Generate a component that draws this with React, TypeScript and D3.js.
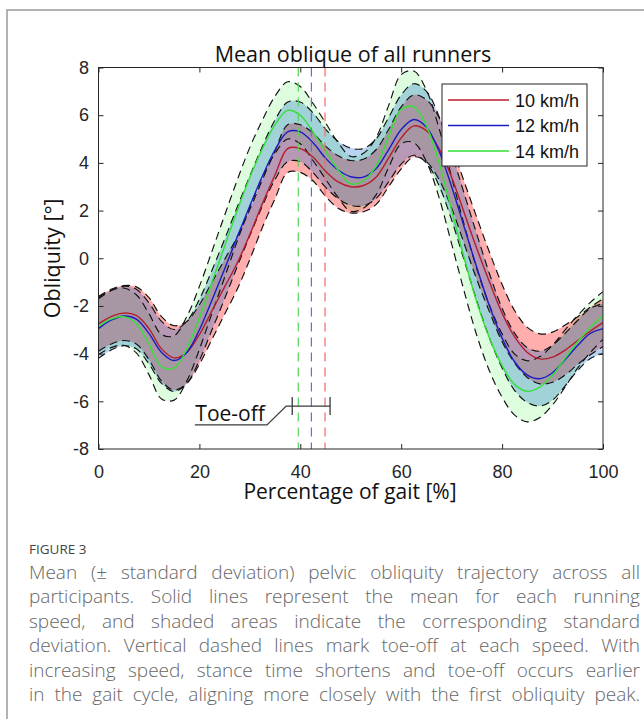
import React, { useEffect, useRef } from 'react';
import * as d3 from 'd3';

// gait cycle samples (%)
const gaitPct = [
  0, 2.5, 5, 7.5, 10, 12.5, 15, 17.5, 20, 22.5, 25, 27.5, 30, 32.5, 35, 37.5, 40, 42.5, 45, 47.5,
  50, 52.5, 55, 57.5, 60, 62.5, 65, 67.5, 70, 72.5, 75, 77.5, 80, 82.5, 85, 87.5, 90, 92.5, 95, 97.5, 100,
];

// mean obliquity (deg) per speed
const mean10 = [
  -2.75, -2.45, -2.3, -2.4, -2.95, -3.8, -4.18, -3.95, -3.2, -2.2, -1.2, -0.2, 1.0, 2.3, 3.5, 4.6, 4.6, 4.25, 3.65, 3.2,
  3.0, 3.05, 3.4, 4.2, 5.05, 5.55, 5.35, 4.6, 3.4, 1.9, 0.4, -1.0, -2.3, -3.3, -3.95, -4.22, -4.15, -3.85, -3.45, -3.05, -2.7,
];
const mean12 = [
  -2.95, -2.6, -2.42, -2.55, -3.15, -3.95, -4.29, -3.95, -3.0, -1.75, -0.45, 0.9, 2.2, 3.45, 4.55, 5.3, 5.3, 4.85, 4.2, 3.7,
  3.42, 3.4, 3.75, 4.55, 5.4, 5.82, 5.5, 4.5, 3.0, 1.3, -0.4, -2.0, -3.35, -4.35, -4.9, -5.05, -4.8, -4.25, -3.65, -3.15, -2.95,
];
const mean14 = [
  -2.85, -2.55, -2.45, -2.75, -3.6, -4.55, -4.6, -3.8, -2.5, -1.0, 0.5, 2.0, 3.4, 4.6, 5.6, 6.2, 6.0, 5.3, 4.5, 3.7,
  3.12, 3.25, 3.85, 5.1, 6.25, 6.35, 5.55, 4.0, 2.0, 0.0, -1.85, -3.35, -4.5, -5.3, -5.58, -5.4, -4.9, -4.2, -3.5, -2.9, -2.4,
];

// standard deviation (deg) per speed
const sd10 = [
  1.15, 1.15, 1.15, 1.2, 1.3, 1.35, 1.35, 1.3, 1.25, 1.2, 1.15, 1.1, 1.05, 1.0, 1.0, 1.0, 1.0, 1.0, 1.05, 1.1,
  1.1, 1.1, 1.15, 1.2, 1.3, 1.3, 1.3, 1.3, 1.3, 1.3, 1.3, 1.25, 1.2, 1.1, 1.05, 1.05, 1.05, 1.05, 1.0, 1.0, 1.0,
];
const sd12 = [
  1.25, 1.25, 1.25, 1.25, 1.28, 1.3, 1.3, 1.3, 1.28, 1.25, 1.25, 1.25, 1.25, 1.25, 1.25, 1.25, 1.25, 1.25, 1.22, 1.2,
  1.2, 1.2, 1.25, 1.35, 1.45, 1.5, 1.5, 1.45, 1.4, 1.4, 1.4, 1.35, 1.25, 1.2, 1.15, 1.15, 1.15, 1.1, 1.05, 1.05, 1.05,
];
const sd14 = [
  1.2, 1.2, 1.2, 1.22, 1.28, 1.35, 1.35, 1.35, 1.32, 1.3, 1.3, 1.28, 1.25, 1.2, 1.2, 1.2, 1.2, 1.2, 1.18, 1.15,
  1.15, 1.15, 1.2, 1.3, 1.45, 1.5, 1.5, 1.45, 1.4, 1.4, 1.4, 1.38, 1.33, 1.28, 1.28, 1.28, 1.25, 1.2, 1.1, 1.05, 1.0,
];

const speedLabels = ['10 km/h', '12 km/h', '14 km/h'];
const toeOffPct = [44.9, 42.2, 39.6];
const toeOffRange = [38.4, 45.9];
const toeOffBarY = -6.2;
// leader from the bar to the label, in data units
const leaderPts: [number, number][] = [[37.2, -6.2], [33.4, -6.99], [19.1, -6.99]];

const xTicks = [0, 20, 40, 60, 80, 100];
const yTicks = [-8, -6, -4, -2, 0, 2, 4, 6, 8];

const captionLines = [
  'Mean (± standard deviation) pelvic obliquity trajectory across all',
  'participants. Solid lines represent the mean for each running',
  'speed, and shaded areas indicate the corresponding standard',
  'deviation. Vertical dashed lines mark toe-off at each speed. With',
  'increasing speed, stance time shortens and toe-off occurs earlier',
  'in the gait cycle, aligning more closely with the first obliquity peak.',
];

const App = () => {
  const svgRef = useRef<SVGSVGElement>(null);

  useEffect(() => {
    document.body.style.margin = '0';
    document.body.style.overflow = 'hidden';
    const svg = d3.select(svgRef.current);
    svg.selectAll('*').remove();

    const left = 98.5, right = 603, top = 67.5, bottom = 449;
    const x = d3.scaleLinear().domain([0, 100]).range([left, right]);
    const y = d3.scaleLinear().domain([-8, 8]).range([bottom, top]);

    const humanist = '"Open Sans", sans-serif';
    const arial = '"Liberation Sans", Arial, sans-serif';

    // outer figure frame
    svg.append('path')
      .attr('d', 'M7,719 V10 H644')
      .attr('fill', 'none')
      .attr('stroke', '#9a9a9a')
      .attr('stroke-width', 1.5);

    svg.append('clipPath').attr('id', 'plotclip')
      .append('rect')
      .attr('x', left).attr('y', top)
      .attr('width', right - left).attr('height', bottom - top);

    const series = [
      { mean: mean10, sd: sd10, line: '#b81c2c', fill: '#ff0000', op: 0.32 },
      { mean: mean12, sd: sd12, line: '#1c1cc4', fill: '#0064c8', op: 0.28 },
      { mean: mean14, sd: sd14, line: '#34e034', fill: '#00e600', op: 0.13 },
    ];

    const plotG = svg.append('g').attr('clip-path', 'url(#plotclip)');

    const area = d3.area<number>()
      .x((_, i) => x(gaitPct[i]))
      .curve(d3.curveCatmullRom);

    // bands: green first, then red, then blue
    [2, 0, 1].forEach(k => {
      const s = series[k];
      plotG.append('path')
        .attr('d', area
          .y0((_, i) => y(s.mean[i] - s.sd[i]))
          .y1((_, i) => y(s.mean[i] + s.sd[i]))(gaitPct))
        .attr('fill', s.fill)
        .attr('fill-opacity', s.op);
    });

    const line = d3.line<number>()
      .x((_, i) => x(gaitPct[i]))
      .curve(d3.curveCatmullRom);

    // dashed SD outlines
    series.forEach(s => {
      [1, -1].forEach(sign => {
        plotG.append('path')
          .attr('d', line.y((_, i) => y(s.mean[i] + sign * s.sd[i]))(gaitPct))
          .attr('fill', 'none')
          .attr('stroke', '#111')
          .attr('stroke-width', 1.15)
          .attr('stroke-dasharray', '8,5');
      });
    });

    // mean lines
    series.forEach(s => {
      plotG.append('path')
        .attr('d', line.y((_, i) => y(s.mean[i]))(gaitPct))
        .attr('fill', 'none')
        .attr('stroke', s.line)
        .attr('stroke-width', 1.4);
    });

    // toe-off markers
    const toeColors = ['#f06a6a', '#6a6ae6', '#55d455'];
    toeOffPct.forEach((t, k) => {
      plotG.append('line')
        .attr('x1', x(t)).attr('x2', x(t))
        .attr('y1', top).attr('y2', bottom)
        .attr('stroke', toeColors[k])
        .attr('stroke-width', 1.2)
        .attr('stroke-dasharray', '9,6');
    });

    // toe-off range bar + leader
    const barG = svg.append('g').attr('stroke', '#3a3a3a').attr('stroke-width', 1.3).attr('fill', 'none');
    barG.append('line')
      .attr('x1', x(toeOffRange[0])).attr('x2', x(toeOffRange[1]))
      .attr('y1', y(toeOffBarY)).attr('y2', y(toeOffBarY));
    toeOffRange.forEach(v => {
      barG.append('line')
        .attr('x1', x(v)).attr('x2', x(v))
        .attr('y1', y(toeOffBarY) - 9).attr('y2', y(toeOffBarY) + 9);
    });
    barG.append('path')
      .attr('d', d3.line()(
        [[x(toeOffRange[0]), y(toeOffBarY)], ...leaderPts.map(p => [x(p[0]), y(p[1])] as [number, number])]
      ));
    svg.append('text')
      .attr('x', x(leaderPts[2][0]) + 0.5)
      .attr('y', y(leaderPts[2][1]) - 4)
      .attr('font-family', humanist)
      .attr('font-size', 21)
      .attr('fill', '#111')
      .text('Toe-off');

    // axes
    const axG = svg.append('g');
    const styleAxis = (g: any) => {
      g.select('.domain').remove();
      g.selectAll('line').attr('stroke', '#262626');
      g.selectAll('text').attr('fill', '#262626').attr('font-family', arial).attr('font-size', 18);
    };
    axG.append('g')
      .attr('transform', `translate(0,${bottom})`)
      .call(d3.axisBottom(x).tickValues(xTicks).tickSize(-5).tickPadding(16.5))
      .call(styleAxis);
    axG.append('g')
      .attr('transform', `translate(0,${top})`)
      .call(d3.axisTop(x).tickValues(xTicks).tickSize(-5).tickFormat(() => ''))
      .call(styleAxis);
    axG.append('g')
      .attr('transform', `translate(${left},0)`)
      .call(d3.axisLeft(y).tickValues(yTicks).tickSize(-5).tickPadding(9.5).tickFormat(d3.format('d')))
      .call(styleAxis);
    axG.append('g')
      .attr('transform', `translate(${right},0)`)
      .call(d3.axisRight(y).tickValues(yTicks).tickSize(-5).tickFormat(() => ''))
      .call(styleAxis);
    axG.selectAll('text').text(function () {
      return (d3.select(this).text() as string).replace('−', '-');
    });
    svg.append('rect')
      .attr('x', left).attr('y', top)
      .attr('width', right - left).attr('height', bottom - top)
      .attr('fill', 'none')
      .attr('stroke', '#262626')
      .attr('stroke-width', 1);

    // legend
    const lg = svg.append('g');
    lg.append('rect')
      .attr('x', 442).attr('y', 84).attr('width', 145).attr('height', 82)
      .attr('fill', '#fff').attr('stroke', '#262626').attr('stroke-width', 1);
    speedLabels.forEach((lab, k) => {
      const cy = 100 + k * 25.5;
      lg.append('line')
        .attr('x1', 448).attr('x2', 509).attr('y1', cy).attr('y2', cy)
        .attr('stroke', series[k].line).attr('stroke-width', 1.4);
      lg.append('text')
        .attr('x', 515).attr('y', cy + 6.5)
        .attr('font-family', arial).attr('font-size', 18).attr('fill', '#111')
        .text(lab);
    });

    // titles
    svg.append('text')
      .attr('x', 353).attr('y', 62)
      .attr('text-anchor', 'middle')
      .attr('font-family', humanist).attr('font-size', 21.5).attr('fill', '#111')
      .text('Mean oblique of all runners');
    svg.append('text')
      .attr('x', 350).attr('y', 499)
      .attr('text-anchor', 'middle')
      .attr('font-family', humanist).attr('font-size', 21)
      .attr('fill', '#111')
      .text('Percentage of gait [%]');
    svg.append('text')
      .attr('transform', `translate(60,${(top + bottom) / 2}) rotate(-90)`)
      .attr('text-anchor', 'middle')
      .attr('font-family', humanist).attr('font-size', 21.5).attr('fill', '#111')
      .text('Obliquity [°]');

    // caption
    svg.append('text')
      .attr('x', 29).attr('y', 554)
      .attr('font-family', humanist).attr('font-size', 13.5).attr('fill', '#444')
      .text('FIGURE 3');
    captionLines.forEach((ln, i) => {
      const t = svg.append('text')
        .attr('x', 29).attr('y', 579 + i * 24.4)
        .attr('font-family', humanist).attr('font-size', 19).attr('font-weight', 300)
        .attr('fill', '#666')
        .text(ln);
      const natural = (t.node() as SVGTextElement).getComputedTextLength();
      const gaps = ln.split(' ').length - 1;
      t.attr('word-spacing', (611 - natural) / gaps);
    });
  }, []);

  return <svg ref={svgRef} width={644} height={719} style={{ display: 'block' }} />;
};

export default App;
